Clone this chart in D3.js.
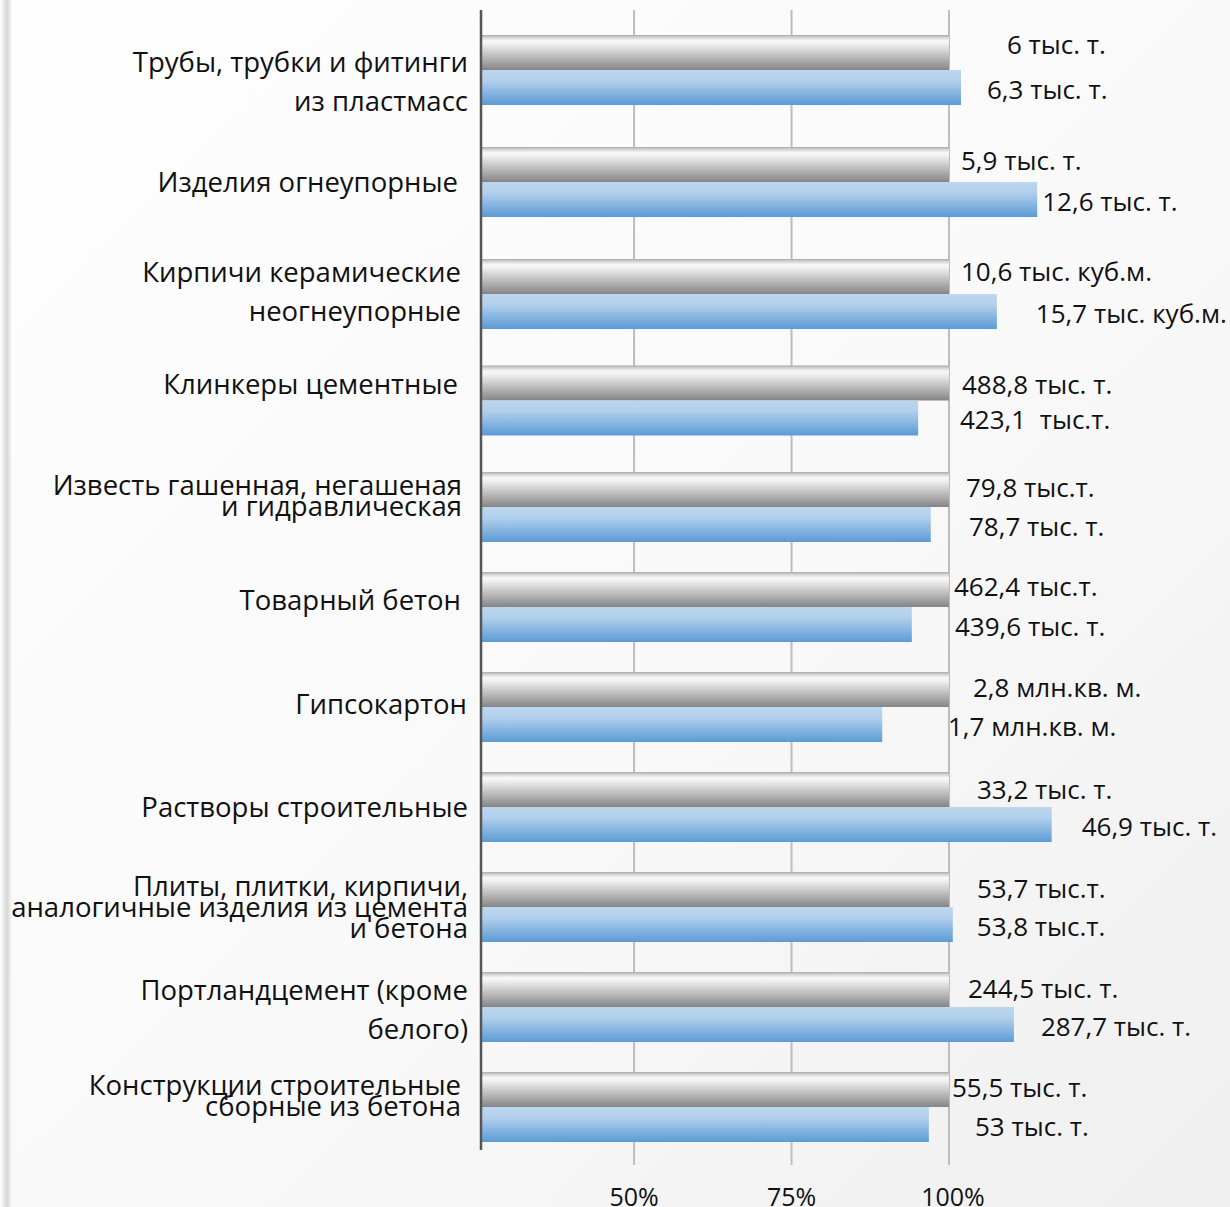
<!DOCTYPE html>
<html>
<head>
<meta charset="utf-8">
<script src="https://cdn.jsdelivr.net/npm/d3@7"></script>
<style>
  html, body { margin: 0; padding: 0; background: #fff; }
  svg { display: block; }
  text { font-family: "Open Sans", "Noto Sans", sans-serif; fill: #111; }
</style>
</head>
<body>
<svg id="chart" width="1230" height="1207"></svg>
<script>
// ---------- DATA ----------
const categories = [
  ["Трубы, трубки и фитинги", "из пластмасс"],
  ["Изделия огнеупорные"],
  ["Кирпичи керамические", "неогнеупорные"],
  ["Клинкеры цементные"],
  ["Известь гашенная, негашеная", "и гидравлическая"],
  ["Товарный бетон"],
  ["Гипсокартон"],
  ["Растворы строительные"],
  ["Плиты, плитки, кирпичи,", "аналогичные изделия из цемента", "и бетона"],
  ["Портландцемент (кроме", "белого)"],
  ["Конструкции строительные", "сборные из бетона"]
];
// previous period = 100%
const prevPct = [100, 100, 100, 100, 100, 100, 100, 100, 100, 100, 100];
// current period, % of previous (as drawn)
const currPct = [101.9, 114.0, 107.6, 95.1, 97.1, 94.1, 89.4, 116.3, 100.6, 110.3, 96.8];
const prevLabels = ["6 тыс. т.", "5,9 тыс. т.", "10,6 тыс. куб.м.", "488,8 тыс. т.", "79,8 тыс.т.",
  "462,4 тыс.т.", "2,8 млн.кв. м.", "33,2 тыс. т.", "53,7 тыс.т.", "244,5 тыс. т.", "55,5 тыс. т."];
const currLabels = ["6,3 тыс. т.", "12,6 тыс. т.", "15,7 тыс. куб.м.", "423,1  тыс.т.", "78,7 тыс. т.",
  "439,6 тыс. т.", "1,7 млн.кв. м.", "46,9 тыс. т.", "53,8 тыс.т.", "287,7 тыс. т.", "53 тыс. т."];
const xTicks = [50, 75, 100];
const xTickLabels = ["50%", "75%", "100%"];

// ---------- LAYOUT / STYLE (hand-placed label nudges, as in the original slide) ----------
const W = 1230, H = 1207;
const axisX = 481;
const barH = 35;
const lineGapLoose = 39, lineGapTight = 21;
const leading = [lineGapLoose, 0, lineGapLoose, 0, lineGapTight, 0, 0, 0, lineGapTight, lineGapLoose, lineGapTight];
const catDy = [12, 0, -2, -16, -11, -7, -3, 0, 0, 3, -11];
const catDx = [0, -10, -7, -10, -6, -7, -1, 0, 0, 0, -7];
const prevDx = [38, -8, -8, -7, -3, -15, 4, 8, 8, -1, -17];
const prevDy = [-6, -2, -3, 3, 0, -1, 0, 2, 1, 1, 0];
const currDx = [6, -15, 19, -9, 0, -14, -21, 10, 4, 7, 6];

const svg = d3.select("#chart");
const defs = svg.append("defs");

const bg = defs.append("linearGradient").attr("id", "bg").attr("x1", "0").attr("y1", "0").attr("x2", "1").attr("y2", "1");
bg.append("stop").attr("offset", "0%").attr("stop-color", "#fefefe");
bg.append("stop").attr("offset", "55%").attr("stop-color", "#f9f9f9");
bg.append("stop").attr("offset", "100%").attr("stop-color", "#efefef");

const edge = defs.append("linearGradient").attr("id", "edge").attr("x1", "0").attr("x2", "1");
edge.append("stop").attr("offset", "0%").attr("stop-color", "#ffffff");
edge.append("stop").attr("offset", "60%").attr("stop-color", "#d6d6d6");
edge.append("stop").attr("offset", "100%").attr("stop-color", "#fbfbfb");

const gGrey = defs.append("linearGradient").attr("id", "gGrey").attr("x1", "0").attr("y1", "0").attr("x2", "0").attr("y2", "1");
[["0%", "#a9a9a9"], ["6%", "#cfcfcf"], ["16%", "#f7f7f7"], ["24%", "#f2f2f2"], ["100%", "#858585"]]
  .forEach(s => gGrey.append("stop").attr("offset", s[0]).attr("stop-color", s[1]));
const gBlue = defs.append("linearGradient").attr("id", "gBlue").attr("x1", "0").attr("y1", "0").attr("x2", "0").attr("y2", "1");
[["0%", "#bcd6ee"], ["30%", "#b2d0ec"], ["100%", "#5b9bd5"]]
  .forEach(s => gBlue.append("stop").attr("offset", s[0]).attr("stop-color", s[1]));

svg.append("rect").attr("width", W).attr("height", H).attr("fill", "url(#bg)");
svg.append("rect").attr("x", 0).attr("y", 0).attr("width", 12).attr("height", H).attr("fill", "url(#edge)");

// scales
const x = d3.scaleLinear().domain([25.7, 100]).range([axisX, 949]);
// group top positions: the original slide spaces groups slightly unevenly
const y = d3.scaleLinear().domain([0, 2, 4, 10]).range([35, 259, 472, 1072]);
const x0 = x(x.domain()[0]);

// gridlines
svg.append("g").selectAll("line").data(xTicks).join("line")
  .attr("x1", d => x(d)).attr("x2", d => x(d))
  .attr("y1", 10).attr("y2", 1165)
  .attr("stroke", "#bdbdbd").attr("stroke-width", 2);

// bars
const groups = svg.append("g").selectAll("g").data(categories).join("g")
  .attr("transform", (d, i) => `translate(0,${y(i)})`);

groups.append("rect")
  .attr("x", x0)
  .attr("y", 0)
  .attr("width", (d, i) => x(prevPct[i]) - x0)
  .attr("height", barH)
  .attr("fill", "url(#gGrey)");

groups.append("rect")
  .attr("x", x0)
  .attr("y", barH)
  .attr("width", (d, i) => x(currPct[i]) - x0)
  .attr("height", barH)
  .attr("fill", "url(#gBlue)");

// value labels
groups.append("text")
  .attr("x", (d, i) => x(Math.max(prevPct[i], 100)) + 20 + prevDx[i])
  .attr("y", (d, i) => 16 + prevDy[i])
  .attr("dy", "0.35em")
  .attr("font-size", 26)
  .style("white-space", "pre")
  .text((d, i) => prevLabels[i]);

groups.append("text")
  .attr("x", (d, i) => x(Math.max(currPct[i], prevPct[i])) + 20 + currDx[i])
  .attr("y", 54.5)
  .attr("dy", "0.35em")
  .attr("font-size", 26)
  .style("white-space", "pre")
  .text((d, i) => currLabels[i]);

// category labels
groups.append("text")
  .attr("text-anchor", "end")
  .attr("font-size", 27.5)
  .each(function(lines, i) {
    const t = d3.select(this);
    const gap = leading[i];
    const total = gap * (lines.length - 1);
    lines.forEach((ln, k) => {
      t.append("tspan")
        .attr("x", 468 + catDx[i])
        .attr("y", barH - total / 2 + k * gap + catDy[i])
        .attr("dy", "0.35em")
        .text(ln);
    });
  });

// axis line
svg.append("line").attr("x1", axisX).attr("x2", axisX).attr("y1", 10).attr("y2", 1150)
  .attr("stroke", "#555").attr("stroke-width", 2.5);

// x tick labels
svg.append("g").selectAll("text").data(xTicks).join("text")
  .attr("x", d => x(d) + (d === 100 ? 4 : 0))
  .attr("y", 1197)
  .attr("dy", "0.35em")
  .attr("text-anchor", "middle")
  .attr("font-size", 25)
  .text((d, i) => xTickLabels[i]);
</script>
</body>
</html>
